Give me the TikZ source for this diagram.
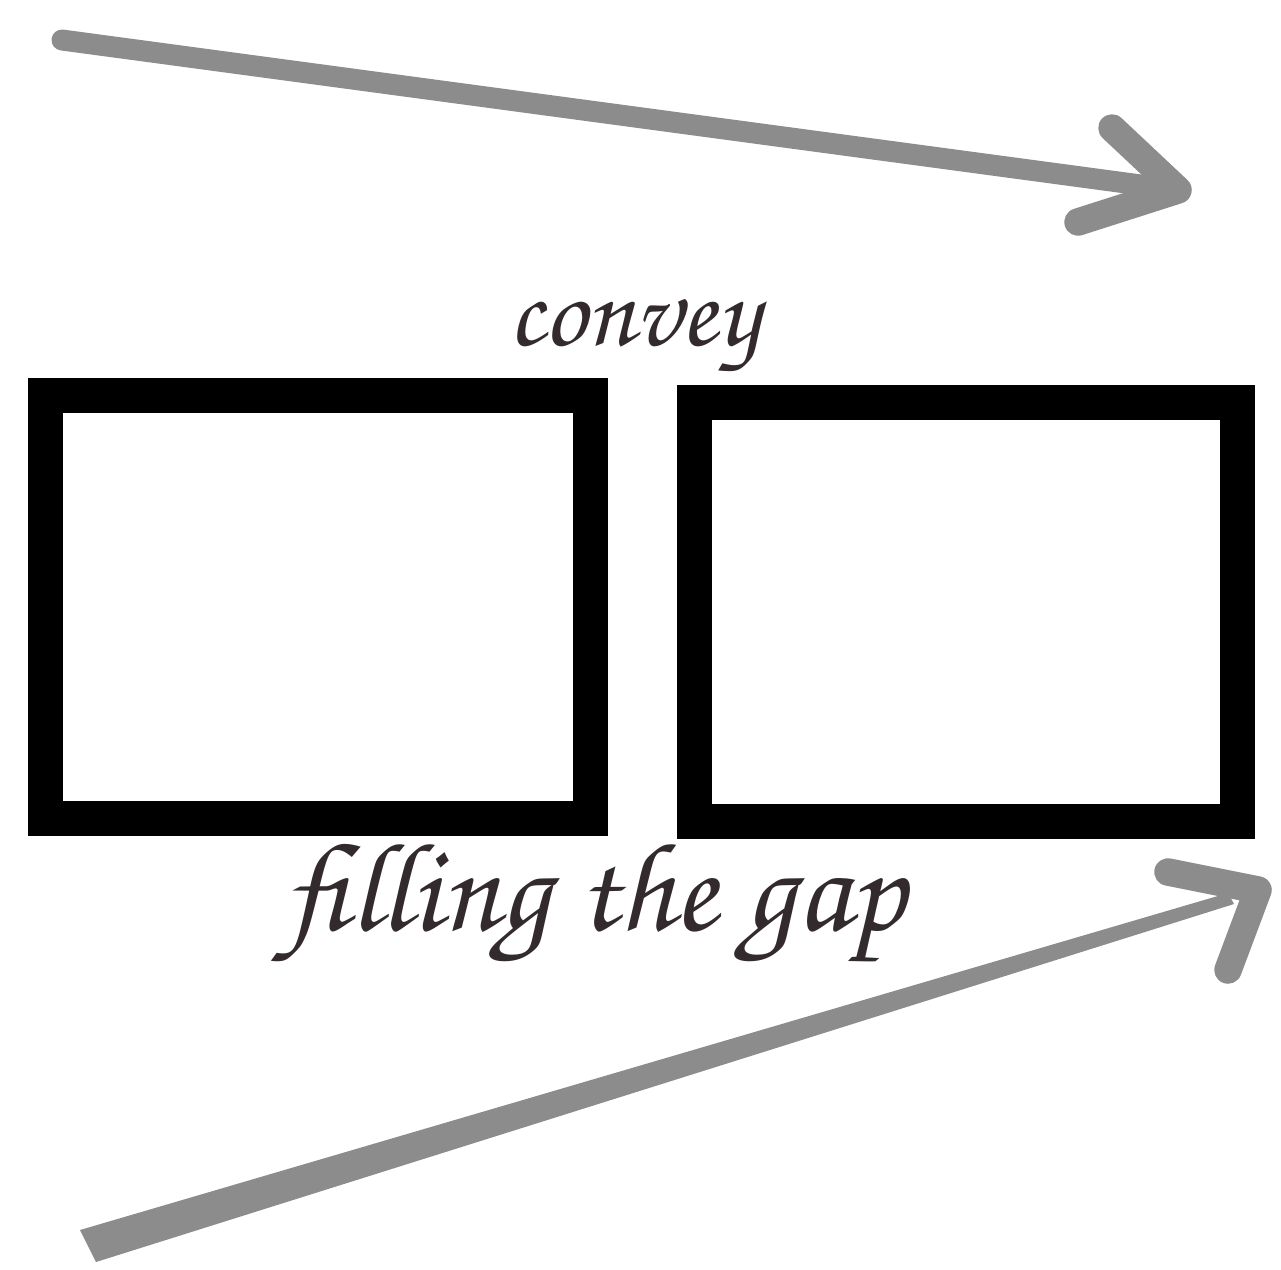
\documentclass[tikz,border=0pt]{standalone}
\usepackage[T1]{fontenc}
\usepackage{tikz}
\usetikzlibrary{positioning}
\definecolor{ink}{HTML}{332A2E}
\definecolor{pencil}{HTML}{8C8C8C}

\begin{document}
\begin{tikzpicture}[x=0.02cm, y=-0.02cm,
    frame/.style = {draw=black, line width=0.7cm, rectangle, inner sep=0pt},
    stroke/.style = {draw=pencil, line width=0.42cm, line cap=round, line join=round},
    script/.style = {text=ink, font=\fontfamily{pzc}\fontseries{mb}\fontshape{it}\fontsize{60}{62}\selectfont}]
            \useasboundingbox (0,0) rectangle (1281,1269);

            % the two frames
            \node[frame, minimum width=10.92cm, minimum height=8.48cm] (left) at (318,607) {};
            \node[frame, minimum width=10.86cm, minimum height=8.38cm] (right) at (966,612) {};

            % labels
            \node[script] (convey) at (634,336) {convey};
            \node[script, font=\fontfamily{pzc}\fontseries{mb}\fontshape{it}\fontsize{72}{74}\selectfont] (gap) at (595,905) {filling the gap};

            % top arrow
            \coordinate (t0) at (62,40);
            \coordinate (t1) at (1178,190);
            \coordinate (tw1) at (1112,128);
            \coordinate (tw2) at (1078,222);
            \draw[stroke] (t0) -- (t1);
            \draw[stroke, line width=0.55cm] (tw1) -- (t1) -- (tw2);

            % bottom arrow
            \coordinate (b0a) at (80,1230);
            \coordinate (b0b) at (96,1262);
            \coordinate (b1a) at (1228,893);
            \coordinate (b1b) at (1234,904);
            \coordinate (bw1) at (1168,872);
            \coordinate (bw2) at (1228,970);
            \fill[pencil] (b0a) -- (b1a) -- (b1b) -- (b0b) -- cycle;
            \draw[stroke, line width=0.55cm] (bw1) -- (1258,890) -- (bw2);
        \end{tikzpicture}
\end{document}
